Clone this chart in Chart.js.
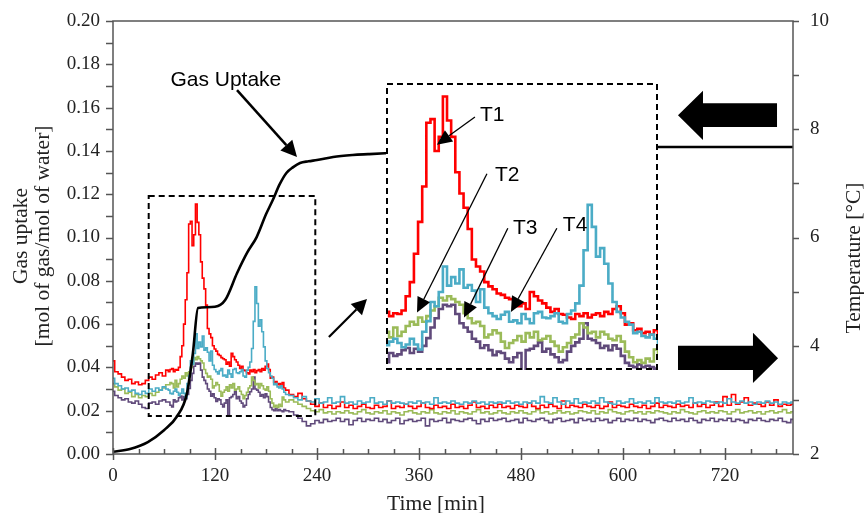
<!DOCTYPE html>
<html>
<head>
<meta charset="utf-8">
<script src="https://cdn.jsdelivr.net/npm/chart.js@4.4.1/dist/chart.umd.min.js"></script>
<style>
  html, body { margin: 0; padding: 0; background: #fff; }
  #wrap { position: relative; width: 864px; height: 513px; }
  #inset { position: absolute; background: #fff; }
  #inset canvas { display: block; }
</style>
</head>
<body>
<div id="wrap">
  <canvas id="main" width="864" height="513"></canvas>
  <div id="inset"><canvas id="zoom"></canvas></div>
</div>
<script>
// time axis of the thermocouple readings [min]
var tempTime = [
  0, 4, 8, 12, 16, 20, 24, 28, 32, 36, 40, 44, 48, 52, 56, 60, 64,
  66, 68, 70, 72, 74, 76, 78, 80, 82, 84,
  86, 88, 90, 92, 94, 96, 98, 100, 102, 104,
  106, 108, 110, 112, 114, 116, 118, 120, 122, 124,
  126, 128, 130, 132, 134, 136, 138, 140, 142, 144,
  146, 148, 150, 152, 154, 156, 158, 160, 162, 164,
  166, 168, 170, 172, 174, 176, 178, 180, 182, 184,
  186, 188, 190, 192, 194, 196, 198, 200, 202, 204,
  210, 215, 220, 225, 230, 235, 240, 245, 250, 255,
  260, 265, 270, 275, 280, 285, 290, 295, 300, 305,
  310, 315, 320, 325, 330, 335, 340, 345, 350, 355,
  360, 365, 370, 375, 380, 385, 390, 395, 400, 405,
  410, 415, 420, 425, 430, 435, 440, 445, 450, 455,
  460, 465, 470, 475, 480, 485, 490, 495, 500, 505,
  510, 515, 520, 525, 530, 535, 540, 545, 550, 555,
  560, 565, 570, 575, 580, 585, 590, 595, 600, 605,
  610, 615, 620, 625, 630, 635, 640, 645, 650, 655,
  660, 665, 670, 675, 680, 685, 690, 695, 700, 705,
  710, 715, 720, 725, 730, 735, 740, 745, 750, 755,
  760, 765, 770, 775, 780, 785, 790, 795, 800
];

// T1 (red)
var tempT1 = [
  3.72, 3.52, 3.48, 3.42, 3.36, 3.38, 3.30, 3.33, 3.28, 3.30, 3.36, 3.42, 3.38, 3.46, 3.50, 3.44, 3.55,
  3.52, 3.56, 3.58, 3.52, 3.56, 3.55, 3.60, 3.80, 4.00, 4.40,
  4.85, 5.35, 6.25, 6.30, 5.85, 6.05, 6.62, 6.28, 6.05, 5.55,
  5.25, 5.05, 4.75, 4.32, 4.22, 4.15, 4.00, 3.94, 3.90, 3.84,
  3.82, 3.78, 3.76, 3.74, 3.66, 3.70, 3.62, 3.86, 3.80, 3.74,
  3.70, 3.64, 3.58, 3.62, 3.55, 3.54, 3.50, 3.48, 3.55, 3.52,
  3.56, 3.50, 3.54, 3.56, 3.52, 3.58, 3.55, 3.62, 3.66, 3.56,
  3.40, 3.42, 3.32, 3.34, 3.28, 3.30, 3.26, 3.32, 3.22, 3.18,
  3.10, 3.06, 3.12, 3.02, 2.98, 2.92, 2.88, 2.94, 2.86, 2.90,
  2.84, 2.88, 2.96, 2.86, 2.90, 2.84, 2.88, 2.92, 2.86, 2.84,
  2.90, 2.86, 2.88, 2.98, 2.84, 2.88, 2.86, 2.92, 2.88, 2.84,
  2.88, 2.94, 2.86, 2.84, 2.90, 2.86, 2.88, 2.84, 2.92, 2.86,
  2.88, 2.84, 2.90, 2.96, 2.86, 2.88, 2.84, 2.90, 2.86, 2.92,
  2.86, 2.88, 2.84, 2.90, 2.88, 2.86, 2.94, 2.88, 2.84, 2.90,
  2.86, 2.92, 2.88, 2.84, 2.98, 2.86, 2.90, 2.88, 2.86, 2.92,
  2.88, 2.86, 2.90, 2.84, 2.88, 2.96, 2.86, 2.90, 2.88, 2.86,
  2.92, 2.88, 2.86, 2.90, 2.84, 2.88, 2.94, 2.86, 2.90, 2.88,
  2.86, 2.92, 2.88, 2.90, 2.86, 2.94, 2.88, 2.92, 2.86, 2.90,
  2.96, 2.88, 3.06, 2.90, 3.10, 2.92, 2.96, 3.04, 2.90, 2.94,
  2.92, 2.88, 2.96, 2.90, 3.00, 2.88, 2.92, 2.90, 2.92
];

// T2 (green)
var tempT2 = [
  3.30, 3.24, 3.18, 3.20, 3.12, 3.14, 3.06, 3.10, 3.04, 3.08, 3.06, 3.12, 3.08, 3.14, 3.18, 3.22, 3.28,
  3.28, 3.32, 3.30, 3.22, 3.36, 3.24, 3.30, 3.38, 3.44, 3.40,
  3.50, 3.44, 3.52, 3.60, 3.66, 3.78, 3.74, 3.80, 3.76, 3.72,
  3.68, 3.56, 3.49, 3.42, 3.44, 3.38, 3.22, 3.26, 3.32, 3.28,
  3.16, 3.07, 3.14, 3.18, 3.24, 3.16, 3.28, 3.22, 3.30, 3.18,
  3.20, 3.24, 3.16, 3.10, 3.02, 3.08, 3.14, 3.22, 3.26, 3.42,
  3.36, 3.28, 3.30, 3.22, 3.30, 3.26, 3.20, 3.18, 3.24, 3.16,
  3.02, 2.94, 2.87, 2.90, 2.86, 2.92, 2.88, 3.05, 3.00, 2.96,
  3.00, 2.96, 2.92, 2.88, 2.84, 2.80, 2.78, 2.82, 2.76, 2.78,
  2.74, 2.78, 2.76, 2.80, 2.76, 2.74, 2.78, 2.82, 2.76, 2.74,
  2.78, 2.76, 2.80, 2.74, 2.78, 2.76, 2.72, 2.78, 2.80, 2.76,
  2.74, 2.78, 2.76, 2.82, 2.76, 2.74, 2.78, 2.76, 2.80, 2.74,
  2.78, 2.76, 2.74, 2.78, 2.82, 2.76, 2.78, 2.74, 2.76, 2.80,
  2.76, 2.74, 2.78, 2.76, 2.80, 2.76, 2.74, 2.78, 2.82, 2.76,
  2.78, 2.74, 2.76, 2.80, 2.76, 2.78, 2.74, 2.76, 2.80, 2.78,
  2.76, 2.80, 2.74, 2.78, 2.76, 2.82, 2.78, 2.76, 2.74, 2.78,
  2.80, 2.76, 2.78, 2.74, 2.78, 2.76, 2.80, 2.78, 2.76, 2.74,
  2.78, 2.76, 2.82, 2.78, 2.76, 2.74, 2.78, 2.80, 2.76, 2.78,
  2.76, 2.80, 2.78, 2.74, 2.78, 2.82, 2.76, 2.78, 2.80, 2.76,
  2.78, 2.74, 2.78, 2.80, 2.76, 2.78, 2.82, 2.76, 2.78
];

// T3 (purple)
var tempT3 = [
  3.16, 3.08, 3.04, 3.00, 3.02, 2.96, 2.94, 2.98, 2.92, 2.86, 2.84, 2.94, 2.96, 2.92, 2.98, 3.00, 2.96,
  2.96, 2.90, 2.87, 3.00, 2.96, 2.98, 3.04, 3.07, 3.00, 3.06,
  3.02, 3.10, 3.21, 3.36, 3.49, 3.62, 3.68, 3.66, 3.68, 3.55,
  3.42, 3.36, 3.30, 3.20, 3.16, 3.07, 3.11, 3.04, 2.97, 3.02,
  3.00, 2.92, 2.87, 2.94, 3.00, 2.70, 3.04, 3.06, 3.10, 3.15,
  3.02, 3.06, 2.98, 2.94, 2.87, 2.90, 3.02, 3.10, 3.15, 3.20,
  3.42, 3.20, 3.18, 3.14, 3.07, 3.10, 3.04, 3.11, 3.06, 2.96,
  2.86, 2.82, 2.80, 2.84, 2.80, 2.82, 2.80, 2.78, 2.82, 2.80,
  2.78, 2.72, 2.66, 2.60, 2.52, 2.56, 2.62, 2.58, 2.64, 2.60,
  2.62, 2.66, 2.60, 2.64, 2.54, 2.62, 2.66, 2.60, 2.64, 2.62,
  2.66, 2.60, 2.64, 2.58, 2.62, 2.66, 2.56, 2.62, 2.64, 2.60,
  2.62, 2.66, 2.52, 2.64, 2.60, 2.62, 2.66, 2.58, 2.64, 2.62,
  2.60, 2.64, 2.66, 2.62, 2.56, 2.64, 2.60, 2.66, 2.62, 2.64,
  2.66, 2.60, 2.62, 2.64, 2.58, 2.66, 2.62, 2.60, 2.64, 2.66,
  2.62, 2.58, 2.64, 2.66, 2.60, 2.62, 2.64, 2.58, 2.66, 2.62,
  2.64, 2.60, 2.66, 2.62, 2.64, 2.58, 2.62, 2.66, 2.60, 2.64,
  2.62, 2.66, 2.60, 2.64, 2.62, 2.58, 2.64, 2.66, 2.62, 2.60,
  2.66, 2.62, 2.64, 2.60, 2.66, 2.62, 2.58, 2.64, 2.62, 2.66,
  2.60, 2.64, 2.62, 2.66, 2.60, 2.64, 2.62, 2.58, 2.64, 2.62,
  2.66, 2.62, 2.60, 2.64, 2.62, 2.66, 2.60, 2.58, 2.64
];

// T4 (cyan)
var tempT4 = [
  3.40, 3.30, 3.26, 3.20, 3.22, 3.16, 3.18, 3.12, 3.10, 3.16, 3.12, 3.20, 3.16, 3.22, 3.18, 3.24, 3.20,
  3.18, 3.12, 3.11, 3.16, 3.20, 3.14, 3.08, 3.12, 3.20, 3.12,
  3.05, 3.30, 3.45, 3.72, 3.66, 3.86, 4.22, 3.95, 4.07, 3.98,
  4.18, 3.92, 3.96, 3.88, 3.72, 3.90, 3.64, 3.56, 3.52, 3.48,
  3.54, 3.58, 3.44, 3.46, 3.42, 3.55, 3.48, 3.42, 3.56, 3.58,
  3.50, 3.49, 3.52, 3.56, 3.44, 3.42, 3.55, 3.60, 3.70, 3.95,
  4.45, 5.09, 4.78, 4.36, 4.48, 4.26, 3.98, 3.72, 3.58, 3.50,
  3.44, 3.40, 3.28, 3.30, 3.24, 3.22, 3.26, 3.20, 3.14, 3.10,
  3.08, 3.04, 3.00, 3.06, 2.98, 2.96, 3.02, 2.94, 2.96, 3.04,
  2.94, 2.96, 3.06, 2.94, 2.96, 2.92, 2.98, 2.94, 2.96, 3.04,
  2.94, 2.96, 2.92, 2.98, 2.94, 2.96, 2.94, 2.92, 2.96, 2.94,
  2.98, 2.94, 2.96, 2.92, 3.04, 2.94, 2.96, 2.94, 2.98, 2.94,
  2.92, 2.96, 2.94, 2.98, 2.94, 2.96, 2.92, 2.96, 2.94, 2.96,
  2.94, 2.98, 2.94, 2.96, 2.92, 2.96, 2.94, 2.98, 2.94, 3.06,
  2.96, 2.94, 3.04, 2.96, 2.92, 2.98, 2.94, 3.02, 2.94, 2.96,
  2.94, 2.98, 2.94, 3.04, 2.96, 2.94, 2.92, 2.98, 2.94, 2.96,
  3.02, 2.94, 2.96, 2.94, 2.98, 2.94, 3.04, 2.96, 2.94, 2.96,
  2.94, 2.98, 2.94, 2.96, 3.04, 2.94, 2.96, 2.94, 2.98, 2.96,
  2.94, 2.96, 2.94, 3.02, 2.96, 2.94, 2.98, 2.94, 2.96, 2.92,
  2.96, 2.94, 2.98, 2.94, 2.96, 2.92, 2.96, 2.94, 2.96
];

// gas uptake [mol of gas/mol of water]
var gasTime = [0, 20, 41, 60, 75, 87, 94, 100, 110, 120, 132, 146, 158, 169, 180, 188, 196, 204, 212, 220, 230, 240, 259, 282, 300, 320, 360, 420, 500, 580, 641, 680, 720, 760, 800];
var gasUptake = [0.001, 0.0023, 0.0055, 0.011, 0.0172, 0.028, 0.0466, 0.0674, 0.0678, 0.068, 0.0711, 0.0836, 0.0931, 0.1002, 0.1107, 0.1173, 0.1245, 0.1298, 0.1325, 0.1344, 0.1352, 0.1358, 0.1372, 0.1381, 0.1385, 0.1389, 0.1395, 0.1402, 0.1408, 0.1413, 0.1418, 0.1418, 0.1418, 0.1418, 0.1418];

// axis ticks
var timeTicks = [0, 120, 240, 360, 480, 600, 720];
var uptakeTicks = [0, 0.02, 0.04, 0.06, 0.08, 0.10, 0.12, 0.14, 0.16, 0.18, 0.20];
var tempTicks = [2, 4, 6, 8, 10];

var serif = "'Liberation Serif', 'Times New Roman', serif";
var sans = "'Liberation Sans', Arial, sans-serif";
var colors = { t1: '#ff0000', t2: '#9bbb59', t3: '#604a7b', t4: '#4bacc6' };
var plotTop = 21;

function pairs(xs, ys) {
  return xs.map(function(x, i) { return { x: x, y: ys[i] }; });
}

function tempSets(width) {
  return [
    { label: 'T4', data: pairs(tempTime, tempT4), borderColor: colors.t4, borderWidth: width, yAxisID: 'y2', stepped: 'middle' },
    { label: 'T1', data: pairs(tempTime, tempT1), borderColor: colors.t1, borderWidth: width, yAxisID: 'y2', stepped: 'middle' },
    { label: 'T2', data: pairs(tempTime, tempT2), borderColor: colors.t2, borderWidth: width, yAxisID: 'y2', stepped: 'middle' },
    { label: 'T3', data: pairs(tempTime, tempT3), borderColor: colors.t3, borderWidth: width, yAxisID: 'y2', stepped: 'middle' }
  ];
}

function arrow(ctx, x1, y1, x2, y2, head, half, lw) {
  var a = Math.atan2(y2 - y1, x2 - x1);
  var bx = x2 - head * Math.cos(a), by = y2 - head * Math.sin(a);
  ctx.lineWidth = lw;
  ctx.beginPath(); ctx.moveTo(x1, y1); ctx.lineTo(bx, by); ctx.stroke();
  ctx.beginPath();
  ctx.moveTo(x2, y2);
  ctx.lineTo(bx + half * Math.sin(a), by - half * Math.cos(a));
  ctx.lineTo(bx - half * Math.sin(a), by + half * Math.cos(a));
  ctx.closePath(); ctx.fill();
}

// vertical axes: fixed width, no extra label padding
function fixWidth(w) {
  return function(s) { s.width = w; s.paddingTop = 0; s.paddingBottom = 0; };
}

// zoomed region in the main plot and where its blow-up sits
var zoomSource = { t0: 42, t1: 238, g0: 0.0176, g1: 0.1192 };
var insetBox = { t0: 321, t1: 641, g0: 0.0388, g1: 0.1714 };
var insetView = { t0: 69.5, t1: 201, T0: 2.76, T1: 6.81 };

var decor = {
  id: 'decor',
  afterDraw: function(chart) {
    var ctx = chart.ctx, a = chart.chartArea;
    var sx = chart.scales.x, sy = chart.scales.y, st = chart.scales.y2;
    ctx.save();
    // frame and ticks
    ctx.strokeStyle = '#555';
    ctx.lineWidth = 1.5;
    ctx.strokeRect(a.left, a.top, a.right - a.left, a.bottom - a.top);
    ctx.beginPath();
    for (var i = 0; i <= 20; i++) {
      var py = Math.round(sy.getPixelForValue(i / 100)) + 0.5;
      ctx.moveTo(a.left - 7, py); ctx.lineTo(a.left, py);
    }
    for (var k = 2; k <= 10; k++) {
      var pt = Math.round(st.getPixelForValue(k)) + 0.5;
      ctx.moveTo(a.right, pt); ctx.lineTo(a.right + 6, pt);
    }
    for (var m = 0; m <= 780; m += 30) {
      var px = Math.round(sx.getPixelForValue(m)) + 0.5;
      if (m % 120 === 0) { ctx.moveTo(px, a.bottom - 6); ctx.lineTo(px, a.bottom + 6); }
      else { ctx.moveTo(px, a.bottom - 5); ctx.lineTo(px, a.bottom); }
    }
    ctx.stroke();

    // axis titles
    ctx.fillStyle = '#222';
    ctx.font = '21.5px ' + serif;
    ctx.textAlign = 'center';
    ctx.textBaseline = 'middle';
    ctx.save();
    ctx.translate(21, 236); ctx.rotate(-Math.PI / 2);
    ctx.fillText('Gas uptake', 0, 0);
    ctx.restore();
    ctx.save();
    ctx.translate(43, 236); ctx.rotate(-Math.PI / 2);
    ctx.fillText('[mol of gas/mol of water]', 0, 0);
    ctx.restore();
    ctx.save();
    ctx.translate(854, 258); ctx.rotate(-Math.PI / 2);
    ctx.fillText('Temperature [\u00B0C]', 0, 0);
    ctx.restore();
    ctx.textBaseline = 'alphabetic';
    ctx.fillText('Time [min]', 436, 510);

    // dashed box around the zoomed region
    ctx.strokeStyle = '#000';
    ctx.fillStyle = '#000';
    ctx.lineWidth = 2;
    ctx.setLineDash([6, 4]);
    var zx0 = sx.getPixelForValue(zoomSource.t0), zx1 = sx.getPixelForValue(zoomSource.t1);
    var zy0 = sy.getPixelForValue(zoomSource.g1), zy1 = sy.getPixelForValue(zoomSource.g0);
    ctx.strokeRect(zx0, zy0, zx1 - zx0, zy1 - zy0);
    ctx.setLineDash([]);

    function P(t, g) { return [sx.getPixelForValue(t), sy.getPixelForValue(g)]; }
    function Q(t, T) { return [sx.getPixelForValue(t), st.getPixelForValue(T)]; }

    // gas uptake label and arrows
    ctx.font = '21px ' + sans;
    ctx.textAlign = 'left';
    var lp = P(67.5, 0.1700);
    ctx.fillText('Gas Uptake', lp[0], lp[1]);
    var s1 = P(145.9, 0.1681), e1 = P(216.5, 0.1372);
    arrow(ctx, s1[0], s1[1], e1[0], e1[1], 16, 8, 2.5);
    var s2 = P(254, 0.0540), e2 = P(298.8, 0.0716);
    arrow(ctx, s2[0], s2[1], e2[0], e2[1], 15, 8, 2.2);

    // block arrows pointing at each axis
    var L = [Q(664.7, 8.26), Q(694.1, 8.71), Q(694.1, 8.48), Q(781.2, 8.48), Q(781.2, 8.04), Q(694.1, 8.04), Q(694.1, 7.80)];
    var R = [Q(782.4, 3.77), Q(752.9, 4.24), Q(752.9, 4.00), Q(664.7, 4.00), Q(664.7, 3.55), Q(752.9, 3.55), Q(752.9, 3.31)];
    [L, R].forEach(function(poly) {
      ctx.beginPath();
      ctx.moveTo(poly[0][0], poly[0][1]);
      for (var j = 1; j < poly.length; j++) ctx.lineTo(poly[j][0], poly[j][1]);
      ctx.closePath(); ctx.fill();
    });
    ctx.restore();
  }
};

var mainChart = new Chart(document.getElementById('main'), {
  type: 'line',
  data: {
    datasets: [
      { label: 'Gas Uptake', data: pairs(gasTime, gasUptake), borderColor: '#000', borderWidth: 2.6,
        cubicInterpolationMode: 'monotone', yAxisID: 'y' }
    ].concat(tempSets(1.6))
  },
  options: {
    responsive: false,
    animation: false,
    devicePixelRatio: 1,
    layout: { padding: { top: plotTop, left: 0, right: 0, bottom: 0 } },
    plugins: { legend: { display: false }, tooltip: { enabled: false } },
    elements: { point: { radius: 0 }, line: { tension: 0 } },
    scales: {
      x: {
        type: 'linear', min: 0, max: 800,
        grid: { display: false, drawTicks: false }, border: { display: false },
        ticks: { font: { family: serif, size: 19 }, color: '#222', padding: 11, maxRotation: 0, autoSkip: false },
        afterBuildTicks: function(s) { s.ticks = timeTicks.map(function(v) { return { value: v }; }); },
        afterFit: function(s) { s.height = 59; }
      },
      y: {
        type: 'linear', position: 'left', min: 0, max: 0.2,
        grid: { display: false, drawTicks: false }, border: { display: false },
        ticks: { font: { family: serif, size: 19 }, color: '#222', padding: 13,
          callback: function(v) { return Number(v).toFixed(2); } },
        afterBuildTicks: function(s) { s.ticks = uptakeTicks.map(function(v) { return { value: v }; }); },
        afterFit: fixWidth(113)
      },
      y2: {
        type: 'linear', position: 'right', min: 2, max: 10,
        grid: { display: false, drawTicks: false }, border: { display: false },
        ticks: { font: { family: serif, size: 19 }, color: '#222', padding: 17 },
        afterBuildTicks: function(s) { s.ticks = tempTicks.map(function(v) { return { value: v }; }); },
        afterFit: fixWidth(71)
      }
    }
  },
  plugins: [decor]
});

// keep the plot frame top where the reference has it
var extraTop = mainChart.chartArea.top - plotTop;
if (Math.abs(extraTop) > 0.2) {
  mainChart.options.layout.padding.top = plotTop - extraTop;
  mainChart.update();
}

// blow-up of the first hours
var sx = mainChart.scales.x, sy = mainChart.scales.y;
var bx0 = Math.round(sx.getPixelForValue(insetBox.t0)), bx1 = Math.round(sx.getPixelForValue(insetBox.t1));
var by0 = Math.round(sy.getPixelForValue(insetBox.g1)), by1 = Math.round(sy.getPixelForValue(insetBox.g0));
var box = document.getElementById('inset');
box.style.left = bx0 + 'px';
box.style.top = by0 + 'px';
box.style.width = (bx1 - bx0) + 'px';
box.style.height = (by1 - by0) + 'px';
var zc = document.getElementById('zoom');
zc.width = bx1 - bx0;
zc.height = by1 - by0;

var insetNotes = [
  { text: 'T1', t: 114.9, T: 6.36, from: [112.5, 6.33], to: [94.1, 5.94] },
  { text: 'T2', t: 122.2, T: 5.51, from: [118.3, 5.53], to: [84.5, 3.57] },
  { text: 'T3', t: 130.9, T: 4.76, from: [128.4, 4.76], to: [107.2, 3.50] },
  { text: 'T4', t: 155.0, T: 4.81, from: [152.1, 4.76], to: [129.9, 3.58] }
];

var insetDecor = {
  id: 'insetDecor',
  afterDraw: function(chart) {
    var ctx = chart.ctx, w = chart.width, h = chart.height;
    var ix = chart.scales.x, iy = chart.scales.y2;
    ctx.save();
    ctx.strokeStyle = '#000';
    ctx.fillStyle = '#000';
    ctx.font = '21px ' + sans;
    ctx.textAlign = 'left';
    ctx.textBaseline = 'middle';
    insetNotes.forEach(function(n) {
      ctx.fillText(n.text, ix.getPixelForValue(n.t), iy.getPixelForValue(n.T));
      arrow(ctx, ix.getPixelForValue(n.from[0]), iy.getPixelForValue(n.from[1]),
        ix.getPixelForValue(n.to[0]), iy.getPixelForValue(n.to[1]), 15, 7, 1.3);
    });
    ctx.lineWidth = 2;
    ctx.setLineDash([6, 4]);
    ctx.strokeRect(1, 1, w - 2, h - 2);
    ctx.restore();
  }
};

new Chart(zc, {
  type: 'line',
  data: { datasets: tempSets(2.6) },
  options: {
    responsive: false,
    animation: false,
    devicePixelRatio: 1,
    layout: { padding: 0 },
    plugins: { legend: { display: false }, tooltip: { enabled: false } },
    elements: { point: { radius: 0 }, line: { tension: 0 } },
    datasets: { line: { clip: 0 } },
    scales: {
      x: { type: 'linear', display: false, min: insetView.t0, max: insetView.t1 },
      y2: { type: 'linear', display: false, min: insetView.T0, max: insetView.T1 }
    }
  },
  plugins: [insetDecor]
});
</script>
</body>
</html>
